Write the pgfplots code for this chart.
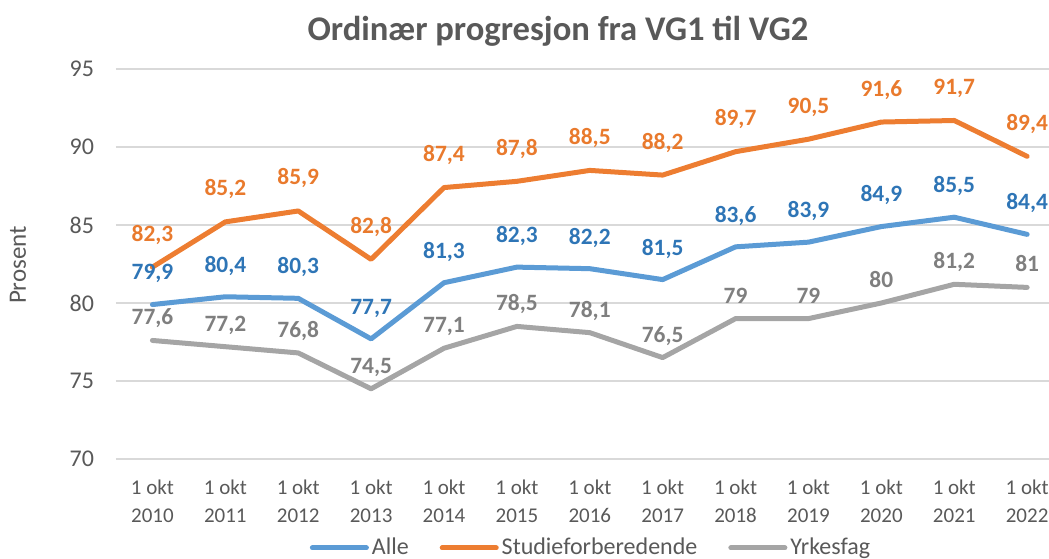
\documentclass[border=0pt]{standalone}
\usepackage{pgfplots}
\pgfplotsset{compat=1.18}
\usepackage{fontspec}
\setmainfont{Carlito}
\definecolor{cblue}{HTML}{5B9BD5}
\definecolor{corange}{HTML}{ED7D31}
\definecolor{cgray}{HTML}{A5A5A5}
\definecolor{lblue}{HTML}{2E75B6}
\definecolor{lorange}{HTML}{E97A2D}
\definecolor{lgray}{HTML}{7F7F7F}
\definecolor{txt}{HTML}{595959}
\definecolor{grid}{HTML}{D9D9D9}
\begin{document}
\begin{tikzpicture}[x=1pt,y=1pt]
\begin{axis}[
  at={(0,0)}, anchor=south west,
  scale only axis, width=466.5pt, height=195pt,
  xmin=-0.5, xmax=12.3, ymin=70, ymax=95,
  ytick={70,75,80,85,90,95},
  xtick={0,1,2,3,4,5,6,7,8,9,10,11,12},
  xticklabels={{1 okt\\2010},{1 okt\\2011},{1 okt\\2012},{1 okt\\2013},{1 okt\\2014},{1 okt\\2015},{1 okt\\2016},{1 okt\\2017},{1 okt\\2018},{1 okt\\2019},{1 okt\\2020},{1 okt\\2021},{1 okt\\2022}},
  xticklabel style={align=center, font=\fontsize{10.5}{13.8}\selectfont, text=txt, yshift=-7pt},
  yticklabel style={font=\fontsize{12}{13}\selectfont, text=txt, xshift=-7.5pt},
  /pgf/number format/assume math mode=true,
  /pgf/number format/use comma,
  axis line style={draw=none},
  tick style={draw=none},
  major tick length=0pt,
  ymajorgrids, grid style={draw=grid, line width=1pt},
  clip=false,
  legend style={at={(0.5097,-0.228)}, anchor=center, draw=none, fill=none,
    legend columns=3, font=\fontsize{12}{13}\selectfont, text=txt,
    nodes={inner xsep=1.5pt},
    /tikz/every even column/.append style={column sep=14pt}},
  legend image code/.code={\draw[#1, line width=2.5pt, line cap=round] (0pt,0pt) -- (27pt,0pt);},
  nodes near coords,
  every node near coord/.append style={font=\bfseries\fontsize{11.7}{12}\selectfont, anchor=base},
]
\addplot[cblue, line width=2.5pt, line join=round, line cap=round, mark=none,
  every node near coord/.append style={text=lblue, yshift=12.3pt}]
  coordinates {(0,79.9)(1,80.4)(2,80.3)(3,77.7)(4,81.3)(5,82.3)(6,82.2)(7,81.5)(8,83.6)(9,83.9)(10,84.9)(11,85.5)(12,84.4)};
\addlegendentry{Alle}
\addplot[corange, line width=2.5pt, line join=round, line cap=round, mark=none,
  every node near coord/.append style={text=lorange, yshift=13pt}]
  coordinates {(0,82.3)(1,85.2)(2,85.9)(3,82.8)(4,87.4)(5,87.8)(6,88.5)(7,88.2)(8,89.7)(9,90.5)(10,91.6)(11,91.7)(12,89.4)};
\addlegendentry{Studieforberedende}
\addplot[cgray, line width=2.5pt, line join=round, line cap=round, mark=none,
  every node near coord/.append style={text=lgray, yshift=7.8pt}]
  coordinates {(0,77.6)(1,77.2)(2,76.8)(3,74.5)(4,77.1)(5,78.5)(6,78.1)(7,76.5)(8,79)(9,79)(10,80)(11,81.2)(12,81)};
\addlegendentry{Yrkesfag}
\end{axis}
\node[font=\bfseries\fontsize{17.3}{20}\selectfont, text=txt, anchor=base] at (221pt,209pt) {Ordinær progresjon fra VG1 til VG2};
\node[font=\fontsize{12.5}{14}\selectfont, text=txt, rotate=90, anchor=base] at (-45pt,97pt) {Prosent};
\pgfresetboundingbox
\path (-58pt,-49.5pt) rectangle (466.5pt,229.5pt);
\end{tikzpicture}
\end{document}
